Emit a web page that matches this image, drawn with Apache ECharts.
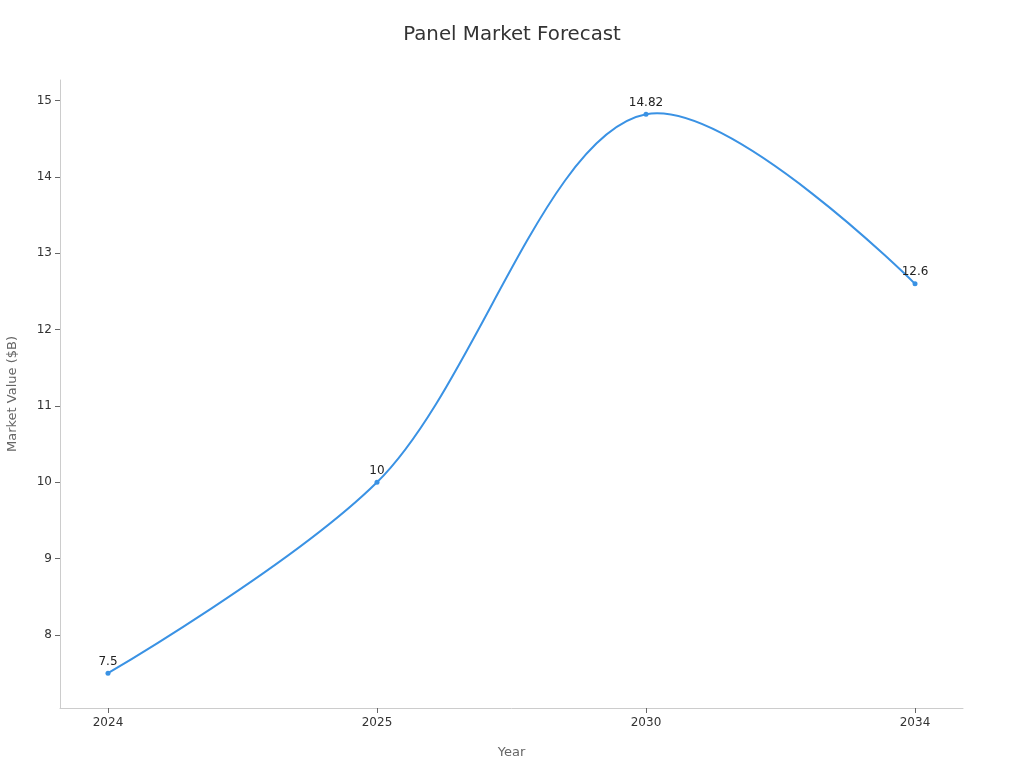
<!DOCTYPE html>
<html>
<head>
<meta charset="utf-8">
<script src="https://cdn.jsdelivr.net/npm/echarts@6/dist/echarts.min.js"></script>
<style>html,body{margin:0;padding:0;background:#fff}#c{width:1024px;height:768px}</style>
</head>
<body>
<div id="c"></div>
<script>
const categories = ['2024', '2025', '2030', '2034'];
const values = [7.5, 10, 14.82, 12.6];
const yTicks = [8, 9, 10, 11, 12, 13, 14, 15];

// Centripetal Catmull-Rom (alpha 0.5) path through pixel points, as in d3.curveCatmullRom
function catmullRomPath(pts, alpha) {
  let d = '';
  let x0 = NaN, y0 = NaN, x1 = NaN, y1 = NaN, x2 = NaN, y2 = NaN;
  let l01a = 0, l12a = 0, l23a = 0, l01_2a = 0, l12_2a = 0, l23_2a = 0, state = 0;
  function seg(x, y) {
    let cx1 = x1, cy1 = y1, cx2 = x2, cy2 = y2;
    if (l01a > 1e-12) {
      const a = 2 * l01_2a + 3 * l01a * l12a + l12_2a, n = 3 * l01a * (l01a + l12a);
      cx1 = (x1 * a - x0 * l12_2a + x2 * l01_2a) / n;
      cy1 = (y1 * a - y0 * l12_2a + y2 * l01_2a) / n;
    }
    if (l23a > 1e-12) {
      const b = 2 * l23_2a + 3 * l23a * l12a + l12_2a, m = 3 * l23a * (l23a + l12a);
      cx2 = (x2 * b + x1 * l23_2a - x * l12_2a) / m;
      cy2 = (y2 * b + y1 * l23_2a - y * l12_2a) / m;
    }
    d += ' C' + cx1 + ' ' + cy1 + ' ' + cx2 + ' ' + cy2 + ' ' + x2 + ' ' + y2;
  }
  function point(x, y) {
    if (state) {
      const dx = x2 - x, dy = y2 - y;
      l23_2a = Math.pow(dx * dx + dy * dy, alpha);
      l23a = Math.sqrt(l23_2a);
    }
    if (state === 0) { state = 1; d += 'M' + x + ' ' + y; }
    else if (state === 1) { state = 2; }
    else { state = 3; seg(x, y); }
    l01a = l12a; l12a = l23a; l01_2a = l12_2a; l12_2a = l23_2a;
    x0 = x1; x1 = x2; x2 = x; y0 = y1; y1 = y2; y2 = y;
  }
  pts.forEach(p => point(p[0], p[1]));
  if (state === 2) d += ' L' + x2 + ' ' + y2;
  else if (state === 3) point(x2, y2);
  return d;
}

const chart = echarts.init(document.getElementById('c'), null, {renderer: 'canvas'});
const font = 'DejaVu Sans';
const lineColor = '#3a92e4';
chart.setOption({
  animation: false,
  textStyle: {fontFamily: font},
  title: {
    text: 'Panel Market Forecast',
    left: 'center',
    top: 20,
    textStyle: {fontFamily: font, fontSize: 19.8, fontWeight: 'normal', color: '#333'}
  },
  grid: {left: 60, right: 61, top: 80, bottom: 60, containLabel: false, outerBoundsMode: 'none'},
  xAxis: {
    type: 'value',
    min: -0.1784,
    max: 3.1784,
    name: 'Year',
    nameLocation: 'middle',
    nameGap: 38,
    nameTextStyle: {fontFamily: font, fontSize: 13, color: '#666'},
    splitLine: {show: false},
    axisLine: {show: true, onZero: false, lineStyle: {color: '#ccc'}},
    axisTick: {show: true, length: 5, customValues: categories.map((c, i) => i), lineStyle: {color: '#666'}},
    axisLabel: {
      customValues: categories.map((c, i) => i),
      formatter: v => categories[Math.round(v)],
      fontFamily: font, fontSize: 12, color: '#333', margin: 9
    }
  },
  yAxis: {
    type: 'value',
    min: 7.044,
    max: 15.27,
    name: 'Market Value ($B)',
    nameLocation: 'middle',
    nameGap: 41,
    nameTextStyle: {fontFamily: font, fontSize: 13, color: '#666'},
    splitLine: {show: false},
    axisLine: {show: true, onZero: false, lineStyle: {color: '#ccc'}},
    axisTick: {show: true, length: 5, customValues: yTicks, lineStyle: {color: '#666'}},
    axisLabel: {customValues: yTicks, fontFamily: font, fontSize: 12, color: '#333', margin: 8}
  },
  series: [{
    type: 'custom',
    data: [0],
    z: 2,
    renderItem: function (params, api) {
      const pts = values.map((v, i) => api.coord([i, v]));
      return {
        type: 'path',
        shape: {pathData: catmullRomPath(pts, 0.5)},
        style: {fill: 'none', stroke: lineColor, lineWidth: 2}
      };
    }
  }, {
    type: 'line',
    z: 3,
    data: values.map((v, i) => [i, v]),
    symbol: 'circle',
    symbolSize: 5,
    lineStyle: {width: 0, opacity: 0},
    itemStyle: {color: lineColor},
    label: {show: true, position: 'top', distance: 3, fontFamily: font, fontSize: 12, color: '#222', formatter: p => String(p.value[1])}
  }]
});
</script>
</body>
</html>
